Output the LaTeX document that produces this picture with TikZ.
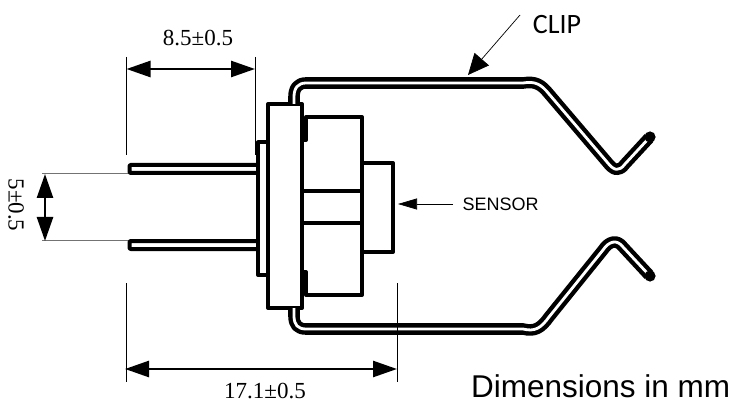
\documentclass[tikz,border=0pt]{standalone}
\usepackage{fontspec}
\setmainfont{Liberation Serif}
\newfontfamily\arialfont{Liberation Sans}
\newfontfamily\calibrifont{Carlito}
\usetikzlibrary{arrows.meta}
\tikzset{
  partline/.style={line width=4pt, line join=round},
  clipstrip/.style={line width=4.4pt, double, double distance=2.8pt, line cap=butt, line join=round},
  extline/.style={line width=0.6pt},
  greyline/.style={line width=0.9pt, black!55!white},
  dimarrow/.style={line width=2.6pt, {Triangle[length=24pt, width=16pt]}-{Triangle[length=24pt, width=16pt]}},
  thinarrow/.style={line width=0.7pt, -{Triangle[length=19pt, width=11pt]}},
  dimlabel/.style={font=\fontsize{23}{23}\selectfont, inner sep=0pt},
}
\begin{document}
\begin{tikzpicture}[x=1pt, y=-1pt]
  \useasboundingbox (0, 0) rectangle (735, 403);

  % pins
  \draw[partline, rounded corners=1pt] (258, 165) to (129.5, 165) to (129.5, 173) to (258, 173);
  \draw[partline, rounded corners=1pt] (258, 241) to (129.5, 241) to (129.5, 249) to (258, 249);

  % body
  \draw[partline] (268, 142.5) to (258, 142.5) to (258, 275) to (268, 275);
  \draw[partline] (268, 104) rectangle (302, 308);
  \draw[partline] (302, 140) to (306, 140) to (306, 117) to (362, 117) to (362, 295) to (306, 295) to (306, 272) to (302, 272);
  \draw[partline] (302, 191) to (362, 191);
  \draw[partline] (302, 223) to (362, 223);
  \draw[partline] (362, 163) to (393, 163) to (393, 252) to (362, 252);

  % clip
  \draw[clipstrip] (294, 104) to (294, 97) .. controls (294, 88) and (298, 83) .. (306, 83) to (523, 83)
    .. controls (535, 81) and (541, 84) .. (549, 94) to (607, 162)
    .. controls (614, 171) and (619, 172) .. (625, 164) to (649, 138);
  \draw[clipstrip] (294, 308) to (294, 316) .. controls (294, 325) and (298, 329) .. (306, 329) to (523, 329)
    .. controls (535, 332) and (541, 328) .. (549, 317) to (603, 250)
    .. controls (609, 241) and (617, 239) .. (623, 247) to (649, 275);
  \fill (650, 137) circle (5.6pt);
  \fill (650, 276) circle (5.6pt);

  % dimensions
  \draw[extline] (126.5, 57) to (126.5, 155);
  \draw[extline] (255, 57) to (255, 155);
  \draw[extline] (126.5, 283) to (126.5, 382);
  \draw[extline] (397, 283) to (397, 382);
  \draw[greyline] (42, 173.5) to (128, 173.5);
  \draw[greyline] (42, 240.7) to (128, 240.7);

  \coordinate (pitchA) at (126.5, 69);
  \coordinate (pitchB) at (255, 69);
  \coordinate (spanA) at (125, 369);
  \coordinate (spanB) at (397, 369);
  \coordinate (pinA) at (45, 174);
  \coordinate (pinB) at (45, 241);
  \coordinate (clipTip) at (468, 75);
  \coordinate (clipEnd) at (520, 15);
  \coordinate (sensorTip) at (398, 204);

  \draw[dimarrow] (pitchA) to (pitchB);
  \draw[dimarrow] (spanA) to (spanB);
  \draw[dimarrow] (pinA) to (pinB);
  \draw[thinarrow, -{Triangle[length=21pt, width=19pt]}] (clipEnd) to (clipTip);

  \node[dimlabel] (pitchText) at (198, 38) {8.5±0.5};
  \node[dimlabel, anchor=base] (spanText) at (265, 398.5) {17.1±0.5};
  \node[dimlabel, rotate=-90] (pinText) at (16, 205) {5±0.5};
  \node[inner sep=0pt, font=\calibrifont\fontsize{28}{28}\selectfont] (clipText) at (557, 25) {CLIP};
  \node[inner sep=0pt, font=\arialfont\fontsize{18}{18}\selectfont] (sensorText) at (500.5, 204) {SENSOR};
  \node[inner sep=0pt, anchor=base west, font=\arialfont\fontsize{31.5}{31.5}\selectfont] (unitText) at (471, 397) {Dimensions in mm};

  \draw[thinarrow] (453, 204) to (sensorTip);
\end{tikzpicture}
\end{document}
